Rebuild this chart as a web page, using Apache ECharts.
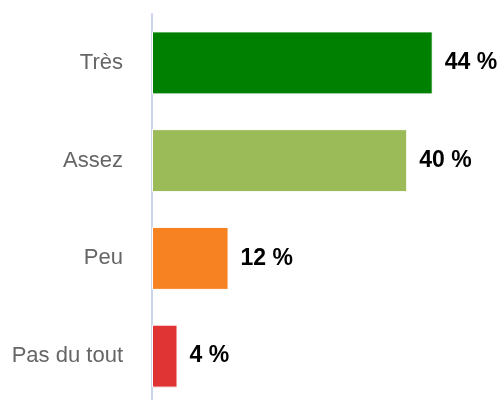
<!DOCTYPE html>
<html><head><meta charset="utf-8">
<script src="https://cdn.jsdelivr.net/npm/echarts@6/dist/echarts.min.js"></script>
<style>html,body{margin:0;padding:0;background:#fff}#c{width:504px;height:400px}</style>
</head><body><div id="c"></div>
<script>
const categories = ['Très', 'Assez', 'Peu', 'Pas du tout'];
const values = [44, 40, 12, 4];
const colors = ['#008000', '#9bbb59', '#f78222', '#e03333'];

const chart = echarts.init(document.getElementById('c'));
chart.setOption({
  animation: false,
  grid: { left: 152, top: 14, width: 319, height: 391, containLabel: false, outerBoundsMode: 'none' },
  xAxis: { type: 'value', min: 0, max: 50, show: false },
  yAxis: {
    type: 'category', data: categories, inverse: true,
    axisLine: { show: true, lineStyle: { color: '#ccd6eb', width: 2 } },
    axisTick: { show: false },
    axisLabel: { color: '#666666', fontSize: 22, fontFamily: 'Liberation Sans, Arial, sans-serif', margin: 29 }
  },
  series: [{
    type: 'bar', barWidth: 63,
    data: values.map((v, i) => ({ value: v, itemStyle: { color: colors[i] } })),
    itemStyle: { borderColor: '#ffffff', borderWidth: 1 },
    label: {
      show: true, position: 'right', distance: 12,
      formatter: p => p.value + ' %',
      color: '#000', fontWeight: 'bold', fontSize: 23,
      fontFamily: 'Liberation Sans, Arial, sans-serif'
    }
  }]
});
</script></body></html>
